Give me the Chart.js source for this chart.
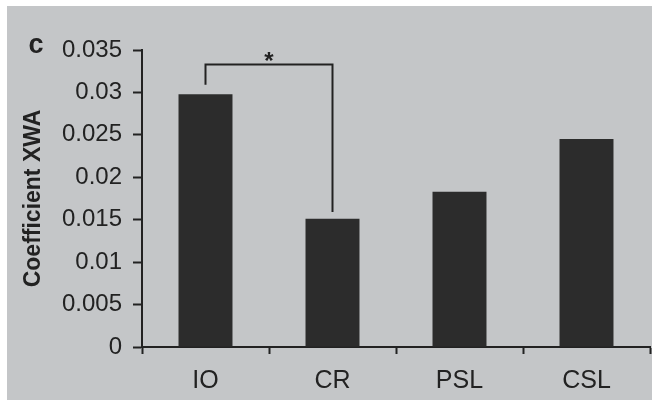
<!DOCTYPE html>
<html>
<head>
<meta charset="utf-8">
<script src="https://cdn.jsdelivr.net/npm/chart.js@4.4.1/dist/chart.umd.min.js"></script>
<style>
  html, body { margin: 0; padding: 0; background: #ffffff; }
  #wrap { width: 652px; height: 400px; }
</style>
</head>
<body>
<div id="wrap"><canvas id="myChart" width="652" height="400"></canvas></div>
<script>
// dados
var categories = ['IO', 'CR', 'PSL', 'CSL'];
var coefXWA = [0.0298, 0.0151, 0.0183, 0.0245];
var yTicks = [0, 0.005, 0.01, 0.015, 0.02, 0.025, 0.03, 0.035];
var sigPair = ['IO', 'CR'];
var sigBracketTop = 0.0333;

var ink = '#222222';
var paper = '#c4c6c8';
var fontFamily = '"Liberation Sans", Arial, sans-serif';

// fundo cinza (foto da página impressa)
var backgroundPlugin = {
    id: 'paper',
    beforeDraw: function(chart) {
        var c = chart.ctx;
        c.save();
        c.fillStyle = '#ffffff';
        c.fillRect(0, 0, chart.width, chart.height);
        c.fillStyle = paper;
        c.fillRect(7, 6, chart.width - 7, chart.height - 6);
        c.restore();
    }
};

// colchete de significância e letra do painel
var bracketPlugin = {
    id: 'bracket',
    afterDraw: function(chart) {
        var c = chart.ctx;
        var x = chart.scales.x, y = chart.scales.y;
        var i0 = categories.indexOf(sigPair[0]);
        var i1 = categories.indexOf(sigPair[1]);
        var x0 = x.getPixelForValue(i0);
        var x1 = x.getPixelForValue(i1);
        var yTop = y.getPixelForValue(sigBracketTop);
        var y0 = y.getPixelForValue(coefXWA[i0] + 0.0011);
        var y1 = y.getPixelForValue(coefXWA[i1] + 0.0008);
        c.save();
        c.strokeStyle = ink;
        c.lineWidth = 2;
        c.beginPath();
        c.moveTo(x0, y0);
        c.lineTo(x0, yTop);
        c.lineTo(x1, yTop);
        c.lineTo(x1, y1);
        c.stroke();
        c.fillStyle = ink;
        c.font = 'bold 24px ' + fontFamily;
        c.textAlign = 'center';
        c.textBaseline = 'middle';
        c.fillText('*', (x0 + x1) / 2, yTop - 2);
        c.font = 'bold 27px ' + fontFamily;
        c.fillText('c', 36, y.getPixelForValue(0.035) - 4);
        c.restore();
    }
};

var ctx = document.getElementById('myChart').getContext('2d');
var myChart = new Chart(ctx, {
    type: 'bar',
    data: {
        labels: categories,
        datasets: [{
            label: 'Coefficient XWA',
            data: coefXWA,
            backgroundColor: '#2c2c2c',
            borderWidth: 0,
            barPercentage: 0.85,
            categoryPercentage: 0.5
        }]
    },
    options: {
        responsive: false,
        animation: false,
        layout: { padding: { top: 50, right: 2, left: 0, bottom: 0 } },
        plugins: {
            legend: { display: false },
            tooltip: { enabled: false }
        },
        scales: {
            x: {
                grid: {
                    offset: true,
                    drawOnChartArea: false,
                    tickLength: 7,
                    tickWidth: 2,
                    color: ink
                },
                border: { color: ink, width: 2 },
                ticks: {
                    color: ink,
                    padding: 12,
                    font: { family: fontFamily, size: 25 }
                },
                afterFit: function(scale) { scale.height = 53; }
            },
            y: {
                min: 0,
                max: 0.035,
                afterBuildTicks: function(scale) {
                    scale.ticks = yTicks.map(function(v) { return { value: v }; });
                },
                grid: {
                    drawOnChartArea: false,
                    tickLength: 9,
                    tickWidth: 2,
                    color: ink
                },
                border: { color: ink, width: 2 },
                ticks: {
                    color: ink,
                    padding: 11,
                    font: { family: fontFamily, size: 24 },
                    callback: function(v) { return String(+v.toFixed(3)); }
                },
                title: {
                    display: true,
                    text: 'Coefficient XWA',
                    color: ink,
                    padding: { top: 20, bottom: 0 },
                    font: { family: fontFamily, size: 23, weight: 'bold' }
                },
                afterFit: function(scale) { scale.width = 142; }
            }
        }
    },
    plugins: [backgroundPlugin, bracketPlugin]
});
</script>
</body>
</html>
